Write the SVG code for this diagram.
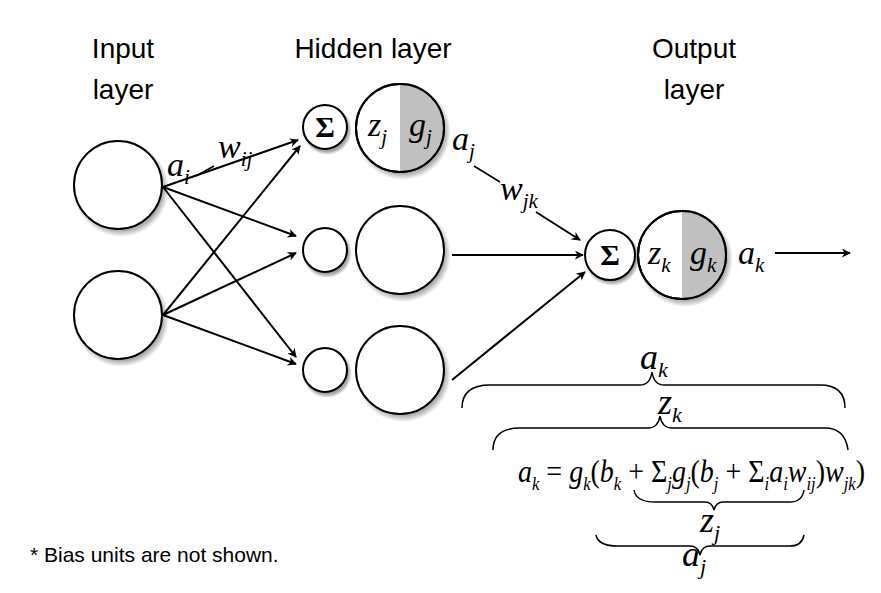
<svg xmlns="http://www.w3.org/2000/svg" width="881" height="593" viewBox="0 0 881 593">
<defs>
<marker id="ah" viewBox="0 0 10 10" refX="9" refY="5" markerWidth="9" markerHeight="9" orient="auto" markerUnits="userSpaceOnUse"><path d="M0,0 L10,5 L0,10 L3,5 z" fill="#000"/></marker>
<radialGradient id="sh"><stop offset="0.85" stop-color="#000" stop-opacity="0.35"/><stop offset="1" stop-color="#000" stop-opacity="0"/></radialGradient>
</defs>
<style>
.c{fill:#fff;stroke:#000;stroke-width:2}
.s{fill:url(#sh)}
.l{stroke:#000;stroke-width:2;fill:none;marker-end:url(#ah)}
.b{stroke:#000;stroke-width:1.5;fill:none}
.t{font-family:"Liberation Sans",sans-serif;font-size:28px;fill:#000;text-anchor:middle}
.m{font-family:"Liberation Serif",serif;font-style:italic;fill:#000}
.g{font-family:"Liberation Serif",serif;font-weight:bold;font-size:30px;text-anchor:middle}
</style>
<g id="labels">
<text class="t" x="123" y="58">Input</text><text class="t" x="123" y="99">layer</text>
<text class="t" x="373" y="58">Hidden layer</text>
<text class="t" x="694" y="58">Output</text><text class="t" x="694" y="99">layer</text>
<text font-family="'Liberation Sans',sans-serif" font-size="21" x="30" y="562">* Bias units are not shown.</text>
</g>
<g id="in1"><circle class="s" cx="121" cy="189" r="48"/><circle class="c" cx="118" cy="185" r="44"/></g>
<g id="in2"><circle class="s" cx="121" cy="319" r="48"/><circle class="c" cx="118" cy="315" r="44"/></g>
<g id="h1">
<circle class="s" cx="327" cy="130" r="25"/><circle class="c" cx="325" cy="127" r="22"/><text class="g" x="325" y="137">Σ</text>
<circle class="s" cx="403" cy="132" r="48"/><circle class="c" cx="400" cy="128" r="44"/>
<path d="M400,84 A44,44 0 0 1 400,172 Z" fill="#c0c0c0"/><circle cx="400" cy="128" r="44" fill="none" stroke="#000" stroke-width="2"/>
<text class="m" font-size="34" x="368" y="136">z<tspan font-size="21" dy="8">j</tspan></text>
<text class="m" font-size="34" x="409" y="136">g<tspan font-size="21" dy="8">j</tspan></text>
</g>
<g id="h2">
<circle class="s" cx="327" cy="253" r="25"/><circle class="c" cx="325" cy="250" r="22"/>
<circle class="s" cx="403" cy="254" r="48"/><circle class="c" cx="400" cy="250" r="44"/>
</g>
<g id="h3">
<circle class="s" cx="327" cy="373" r="25"/><circle class="c" cx="325" cy="370" r="22"/>
<circle class="s" cx="403" cy="374" r="48"/><circle class="c" cx="400" cy="370" r="44"/>
</g>
<g id="out">
<circle class="s" cx="612" cy="258" r="28"/><circle class="c" cx="610" cy="255" r="25"/><text class="g" x="610" y="265">Σ</text>
<circle class="s" cx="685" cy="259" r="48"/><circle class="c" cx="682" cy="255" r="44"/>
<path d="M682,211 A44,44 0 0 1 682,299 Z" fill="#c0c0c0"/><circle cx="682" cy="255" r="44" fill="none" stroke="#000" stroke-width="2"/>
<text class="m" font-size="34" x="648" y="264">z<tspan font-size="21" dy="8">k</tspan></text>
<text class="m" font-size="34" x="690" y="264">g<tspan font-size="21" dy="8">k</tspan></text>
</g>
<g id="connectors">
<path class="l" d="M163,187 L298,140"/>
<path class="l" d="M163,187 L296,236"/>
<path class="l" d="M163,187 L296,357"/>
<path class="l" d="M163,315 L300,146"/>
<path class="l" d="M163,315 L296,253"/>
<path class="l" d="M163,315 L296,364"/>
<path class="b" d="M196,176 L214,166"/>
<path class="b" d="M474,166 L500,182"/>
<path class="l" d="M536,212 L580,240"/>
<path class="l" d="M452,255 L583,255"/>
<path class="l" d="M452,380 L585,272"/>
<path class="l" d="M775,253 L850,253"/>
</g>
<g id="math">
<text class="m" font-size="34" x="167" y="176">a<tspan font-size="21" dy="8">i</tspan></text>
<text class="m" font-size="34" x="218" y="158">w<tspan font-size="21" dy="8">ij</tspan></text>
<text class="m" font-size="34" x="452" y="150">a<tspan font-size="21" dy="8">j</tspan></text>
<text class="m" font-size="34" x="500" y="200">w<tspan font-size="21" dy="8">jk</tspan></text>
<text class="m" font-size="34" x="738" y="264">a<tspan font-size="21" dy="8">k</tspan></text>
<text class="m" font-size="36" x="640" y="369">a<tspan font-size="22" dy="8">k</tspan></text>
<path class="b" d="M462,408 Q462,385 490,385 L640,385 Q650,385 652,372 Q654,385 664,385 L820,385 Q845,385 845,408"/>
<text class="m" font-size="36" x="658" y="414">z<tspan font-size="22" dy="8">k</tspan></text>
<path class="b" d="M493,450 Q493,428 520,428 L648,428 Q658,428 660,416 Q662,428 672,428 L825,428 Q845,428 848,450"/>
<text class="m" font-size="32" x="518" y="482" textLength="347" lengthAdjust="spacingAndGlyphs">a<tspan font-size="19" dy="8">k</tspan><tspan dy="-8" font-style="normal"> = </tspan>g<tspan font-size="19" dy="8">k</tspan><tspan dy="-8" font-style="normal">(</tspan>b<tspan font-size="19" dy="8">k</tspan><tspan dy="-8" font-style="normal"> + Σ</tspan><tspan font-size="19" dy="8">j</tspan><tspan dy="-8">g</tspan><tspan font-size="19" dy="8">j</tspan><tspan dy="-8" font-style="normal">(</tspan>b<tspan font-size="19" dy="8">j</tspan><tspan dy="-8" font-style="normal"> + Σ</tspan><tspan font-size="19" dy="8">i</tspan><tspan dy="-8">a</tspan><tspan font-size="19" dy="8">i</tspan><tspan dy="-8">w</tspan><tspan font-size="19" dy="8">ij</tspan><tspan dy="-8" font-style="normal">)</tspan>w<tspan font-size="19" dy="8">jk</tspan><tspan dy="-8" font-style="normal">)</tspan></text>
<path class="b" d="M634,490 Q636,502 655,502 L705,502 Q712,502 714,510 Q716,502 723,502 L790,502 Q802,502 804,490"/>
<text class="m" font-size="36" x="700" y="532">z<tspan font-size="22" dy="8">j</tspan></text>
<path class="b" d="M596,535 Q598,546 618,546 L690,546 Q698,546 700,555 Q702,546 710,546 L790,546 Q802,546 804,535"/>
<text class="m" font-size="36" x="682" y="566">a<tspan font-size="22" dy="8">j</tspan></text>
</g>
</svg>
